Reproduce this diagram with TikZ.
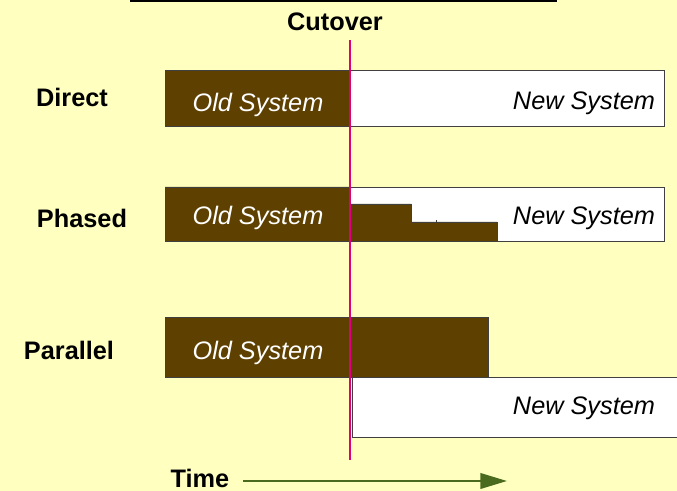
\documentclass[tikz,border=0pt]{standalone}
\usepackage{fontspec}
\setmainfont{Liberation Sans}
\usepackage{tikz}
\usepackage{xcolor}
\usetikzlibrary{arrows.meta}
\definecolor{paper}{HTML}{FFFFC0}
\definecolor{oldsys}{HTML}{5E4000}
\definecolor{cutline}{HTML}{E0007F}
\definecolor{timegreen}{HTML}{4A6A1E}

\begin{document}
\begin{tikzpicture}[x=0.025cm,y=-0.025cm,every node/.style={font=\fontsize{18}{20}\selectfont},
  rowlabel/.style={font=\fontsize{18}{20}\selectfont\bfseries},
  oldlabel/.style={text=white,font=\fontsize{18}{20}\selectfont\itshape},
  newlabel/.style={anchor=east,font=\fontsize{18}{20}\selectfont\itshape},
  boxline/.style={draw=black!75,line width=0.7pt}]
\fill[paper] (0,0) rectangle (677,491);
\useasboundingbox (0,0) rectangle (677,491);
\draw[line width=1.4pt] (130,1) -- (557,1);
\node[rowlabel] (cutover) at (335,22) {Cutover};
% direct
\node[rowlabel] (direct) at (72,97) {Direct};
\fill[white] (350,70) rectangle (664,126);
\fill[oldsys] (165,70) rectangle (350,126);
\draw[boxline] (165,70) rectangle (664,126);
\node[oldlabel] (directold) at (258,105) {Old System};
\node[newlabel] (directnew) at (660,103) {New System};
% phased
\node[rowlabel] (phased) at (82,218) {Phased};
\fill[white] (350,187) rectangle (664,241);
\draw[boxline] (350,187) rectangle (664,241);
\draw[boxline,fill=oldsys] (165,187) -- (350,187) -- (350,204) -- (411,204) -- (411,222)
  -- (497,222) -- (497,241) -- (165,241) -- cycle;
\draw[boxline] (436,220) -- (436,222);
\node[oldlabel] (phasedold) at (258,218) {Old System};
\node[newlabel] (phasednew) at (660,218) {New System};
% parallel
\node[rowlabel] (parallel) at (69,350) {Parallel};
\draw[boxline,fill=oldsys] (165,317) rectangle (488,377);
\fill[white] (352,377) rectangle (677,437);
\draw[boxline] (677,377) -- (352,377) -- (352,437) -- (677,437);
\node[oldlabel] (parallelold) at (258,353) {Old System};
\node[newlabel] (parallelnew) at (660,408) {New System};
% cutover and time
\coordinate (cuttop) at (350,40);
\coordinate (cutbot) at (350,460);
\draw[cutline,line width=1pt] (cuttop) -- (cutbot);
\node[rowlabel] (time) at (200,478) {Time};
\coordinate (timestart) at (243,481);
\coordinate (timeend) at (507,481);
\draw[timegreen,line width=1.8pt,-{Triangle[length=19pt,width=11pt]}] (timestart) -- (timeend);
\end{tikzpicture}
\end{document}
